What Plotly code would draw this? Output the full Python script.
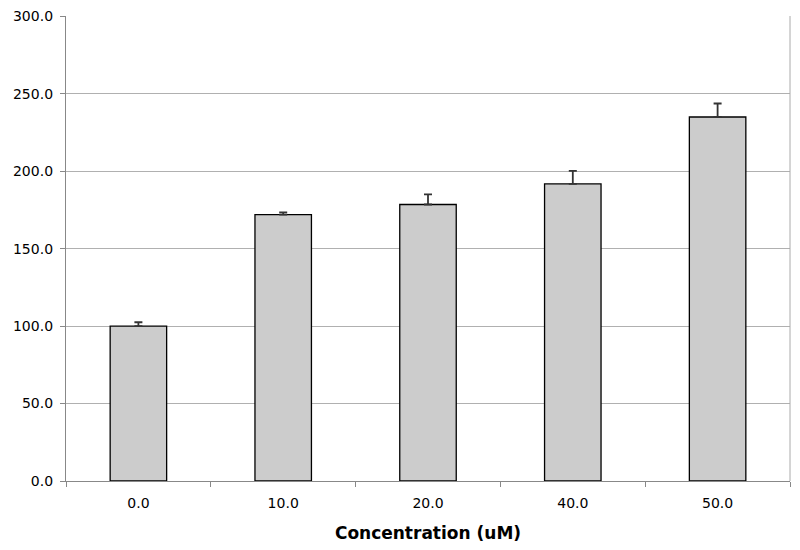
import plotly.graph_objects as go

categories = ["0.0", "10.0", "20.0", "40.0", "50.0"]
values = [100.0, 172.0, 178.5, 191.8, 235.0]
errors_plus = [2.5, 1.4, 6.5, 8.4, 8.7]
y_ticks = [0, 50, 100, 150, 200, 250, 300]
y_tick_labels = [f"{v:.1f}" for v in y_ticks]

fig = go.Figure()
fig.add_trace(go.Bar(
    x=categories,
    y=values,
    width=0.39,
    marker=dict(color="#cccccc", line=dict(color="#000000", width=1.3)),
    error_y=dict(type="data", array=errors_plus, symmetric=False,
                 arrayminus=[0] * len(values),
                 color="#333333", thickness=1.8, width=4),
))

font_family = "DejaVu Sans, Verdana, sans-serif"
# page body adds an 8px offset; figure sized to fit the window
fig.update_layout(
    width=792, height=542,
    margin=dict(l=58, r=10, t=8, b=69),
    plot_bgcolor="white", paper_bgcolor="white",
    font=dict(family=font_family, size=14, color="#000000"),
    showlegend=False,
)
fig.update_xaxes(
    type="category", automargin=False,
    showline=True, linecolor="#888888", linewidth=1.3, mirror=False,
    ticks="outside", tickson="boundaries", ticklen=5, tickcolor="#888888",
    showgrid=False, ticklabelstandoff=9,
    title=dict(text="<b>Concentration (uM)</b>", font=dict(size=17, family=font_family), standoff=17),
    tickfont=dict(size=14),
)
fig.update_yaxes(
    range=[0, 300.2], automargin=False,
    tickvals=y_ticks, ticktext=y_tick_labels,
    showline=True, linecolor="#888888", linewidth=1.3,
    ticks="outside", ticklen=5, tickcolor="#888888",
    showgrid=True, gridcolor="#b0b0b0", gridwidth=1,
    zeroline=False, ticklabelstandoff=4, ticklabeloverflow="allow",
    tickfont=dict(size=14),
)
# right border of plot area
fig.add_shape(type="line", xref="paper", yref="paper", x0=1, x1=1, y0=0, y1=1,
              line=dict(color="#aaaaaa", width=1))

fig.write_html("out.html")
